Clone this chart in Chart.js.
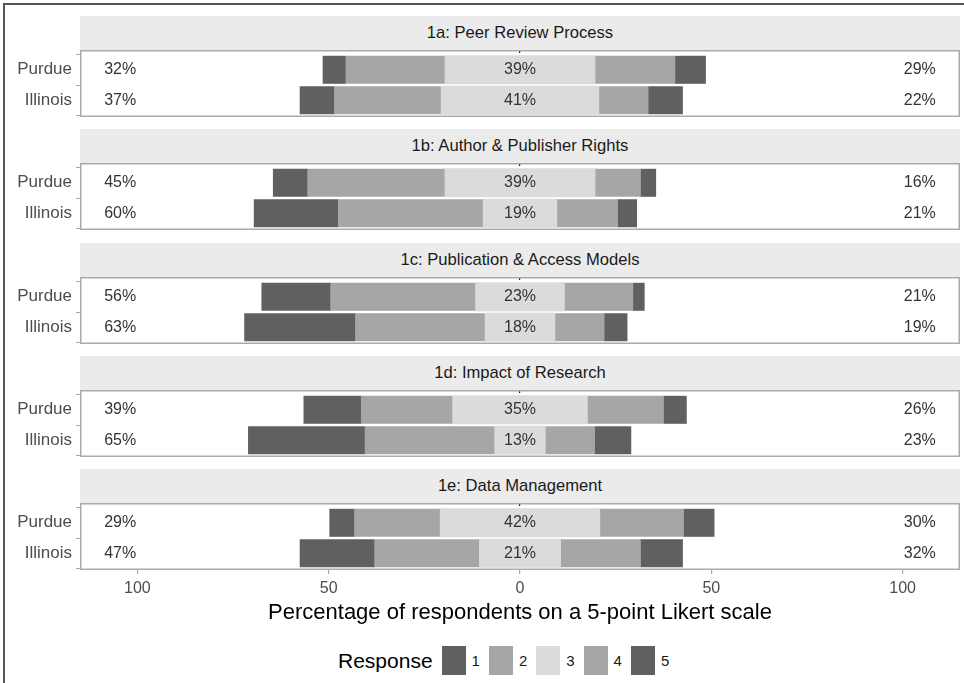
<!DOCTYPE html>
<html>
<head>
<meta charset="utf-8">
<script src="https://cdn.jsdelivr.net/npm/chart.js@4.4.1/dist/chart.umd.min.js"></script>
<style>
  html,body{margin:0;padding:0;background:#fff;}
  body{width:964px;height:683px;overflow:hidden;position:relative;font-family:"Liberation Sans",Arial,sans-serif;}
  #frame{position:absolute;left:3px;top:3px;width:1000px;height:720px;border:2px solid #555;box-sizing:border-box;}
  .strip{position:absolute;left:80px;width:880px;height:34px;background:#ebebeb;color:#1a1a1a;font-size:16.6px;text-align:center;line-height:34px;}
  canvas{position:absolute;left:0;}
  #legend{position:absolute;top:646px;left:338px;display:flex;align-items:center;color:#000;}
  #legend .ttl{font-size:21px;margin-right:9px;}
  #legend .sw{width:24px;height:29px;}
  #legend .lb{font-size:15px;margin:0 9px 0 6px;color:#1a1a1a;}
</style>
</head>
<body>
<div id="frame"></div>
<div id="root"></div>
<div id="legend"></div>
<script>
// ---- data ----
const facets = ['1a: Peer Review Process','1b: Author & Publisher Rights','1c: Publication & Access Models','1d: Impact of Research','1e: Data Management'];
const groups = ['Purdue','Illinois'];
const responseLevels = ['1','2','3','4','5'];
// per facet: [Purdue, Illinois]
const resp1 = [[6,9],[9,22],[18,29],[15,30.5],[6.5,19.5]];
const resp2 = [[26,28],[36,38],[38,34],[24,34],[22.5,27.5]];
const resp3 = [[39,41],[39,19],[23,18],[35,13],[41.5,21]];
const resp4 = [[21,13],[12,16],[18,13],[20,13],[22,21]];
const resp5 = [[8,9],[4,5],[3,6],[6,9.5],[8,11]];
const lowLabels  = [['32%','37%'],['45%','60%'],['56%','63%'],['39%','65%'],['29%','47%']];
const midLabels  = [['39%','41%'],['39%','19%'],['23%','18%'],['35%','13%'],['42%','21%']];
const highLabels = [['29%','22%'],['16%','21%'],['21%','19%'],['26%','23%'],['30%','32%']];
const xTickValues = [-100,-50,0,50,100];
const xTickLabels = ['100','50','0','50','100'];
const xTitle = 'Percentage of respondents on a 5-point Likert scale';
const legendTitle = 'Response';

// ---- styles ----
const FONT = '"Liberation Sans", Arial, sans-serif';
const colors = {1:'#606060',2:'#a6a6a6',3:'#dbdbdb',4:'#a6a6a6',5:'#606060'};
const STRIP_TOP0 = 16, STRIP_H = 34, PANEL_H = 67, PERIOD = 113.25, AXIS_H = 60;

const annot = {
  id:'annot',
  afterDatasetsDraw(chart, args, opts){
    const {ctx, chartArea:a, scales:{x,y}} = chart;
    const f = opts.facet;
    ctx.save();
    ctx.font = '16px ' + FONT;
    ctx.fillStyle = '#333'; ctx.textAlign = 'center'; ctx.textBaseline = 'middle';
    groups.forEach((g,i)=>{
      const py = y.getPixelForValue(i+1);
      ctx.fillText(lowLabels[f][i], x.getPixelForValue(-104.5), py);
      ctx.fillText(midLabels[f][i], x.getPixelForValue(0), py);
      ctx.fillText(highLabels[f][i], x.getPixelForValue(104.5), py);
    });
    ctx.strokeStyle = '#aaaaaa'; ctx.lineWidth = 1.5;
    ctx.strokeRect(a.left+0.75, a.top+0.75, a.right-a.left-1.5, a.bottom-a.top-1.5);
    ctx.restore();
  }
};

const root = document.getElementById('root');
facets.forEach((name, f) => {
  const stripTop = STRIP_TOP0 + PERIOD*f;
  const panelTop = Math.round(stripTop + STRIP_H);
  const last = f === facets.length-1;
  const s = document.createElement('div');
  s.className = 'strip'; s.style.top = Math.round(stripTop) + 'px'; s.textContent = name;
  root.appendChild(s);
  const cv = document.createElement('canvas');
  const h = PANEL_H + (last ? AXIS_H : 0);
  cv.width = 964; cv.height = h; cv.style.top = panelTop + 'px';
  cv.style.width = '964px'; cv.style.height = h + 'px';
  root.appendChild(cv);

  const pts = (vals, sign, half) => groups.map((g,i)=>({y:i+1, x: sign*(half? vals[f][i]/2 : vals[f][i])}));
  const ds = (label, data, c, infl) => ({label, data, stack:'likert', grouped:false, backgroundColor:c, borderWidth:0, inflateAmount:infl, barPercentage:0.9, categoryPercentage:1});
  const datasets = [
    ds('3', pts(resp3,-1,true), colors[3], 0.8),
    ds('3', pts(resp3, 1,true), colors[3], 0.8),
    ds('2', pts(resp2,-1), colors[2], 0.3),
    ds('4', pts(resp4, 1), colors[4], 0.3),
    ds('1', pts(resp1,-1), colors[1], 0.3),
    ds('5', pts(resp5, 1), colors[5], 0.3),
  ];

  new Chart(cv, {
    type:'bar',
    data:{datasets},
    plugins:[annot],
    options:{
      indexAxis:'y', responsive:false, animation:false, devicePixelRatio:1,
      layout:{padding:{left:0,right:4,top:0,bottom:0}},
      plugins:{legend:{display:false}, tooltip:{enabled:false}, annot:{facet:f}},
      scales:{
        x:{
          type:'linear', stacked:true, min:-115, max:115,
          afterBuildTicks(sc){ sc.ticks = xTickValues.map(v=>({value:v})); },
          afterFit(sc){ sc.height = last ? AXIS_H : 0; sc.paddingLeft = 0; sc.paddingRight = 0; sc.paddingTop = 0; sc.paddingBottom = 0; },
          grid:{
            color: c => (c.tick && c.tick.value === 0) ? '#111' : 'rgba(0,0,0,0)',
            lineWidth: 1.2, drawTicks:last, tickLength:4, tickColor:'#aaaaaa'
          },
          border:{display:false, dash:[3,3]},
          ticks:{
            display:last, color:'#4d4d4d', padding:5,
            font:{family:FONT, size:16},
            callback:(v,i)=> xTickLabels[xTickValues.indexOf(v)]
          },
          title:{display:last, text:xTitle, color:'#000', font:{family:FONT,size:22}, padding:{top:4,bottom:4}}
        },
        y:{
          type:'linear', min:0.35, max:2.55, reverse:true, offset:false,
          afterBuildTicks(sc){ sc.ticks = groups.map((g,i)=>({value:i+1})); },
          afterFit(sc){ sc.width = 80; sc.paddingTop = 0; sc.paddingBottom = 0; sc.paddingLeft = 0; sc.paddingRight = 0; },
          grid:{color:'rgba(0,0,0,0)', drawOnChartArea:false, drawTicks:true, tickLength:4, tickColor:'#aaaaaa'},
          border:{display:false},
          ticks:{color:'#4d4d4d', padding:4, font:{family:FONT,size:17}, callback:(v)=> groups[v-1]}
        }
      }
    }
  });
});

// legend
const lg = document.getElementById('legend');
const t = document.createElement('span'); t.className='ttl'; t.textContent = legendTitle; lg.appendChild(t);
responseLevels.forEach(r=>{
  const sw = document.createElement('div'); sw.className='sw'; sw.style.background = colors[r]; lg.appendChild(sw);
  const lb = document.createElement('span'); lb.className='lb'; lb.textContent = r; lg.appendChild(lb);
});
</script>
</body>
</html>
